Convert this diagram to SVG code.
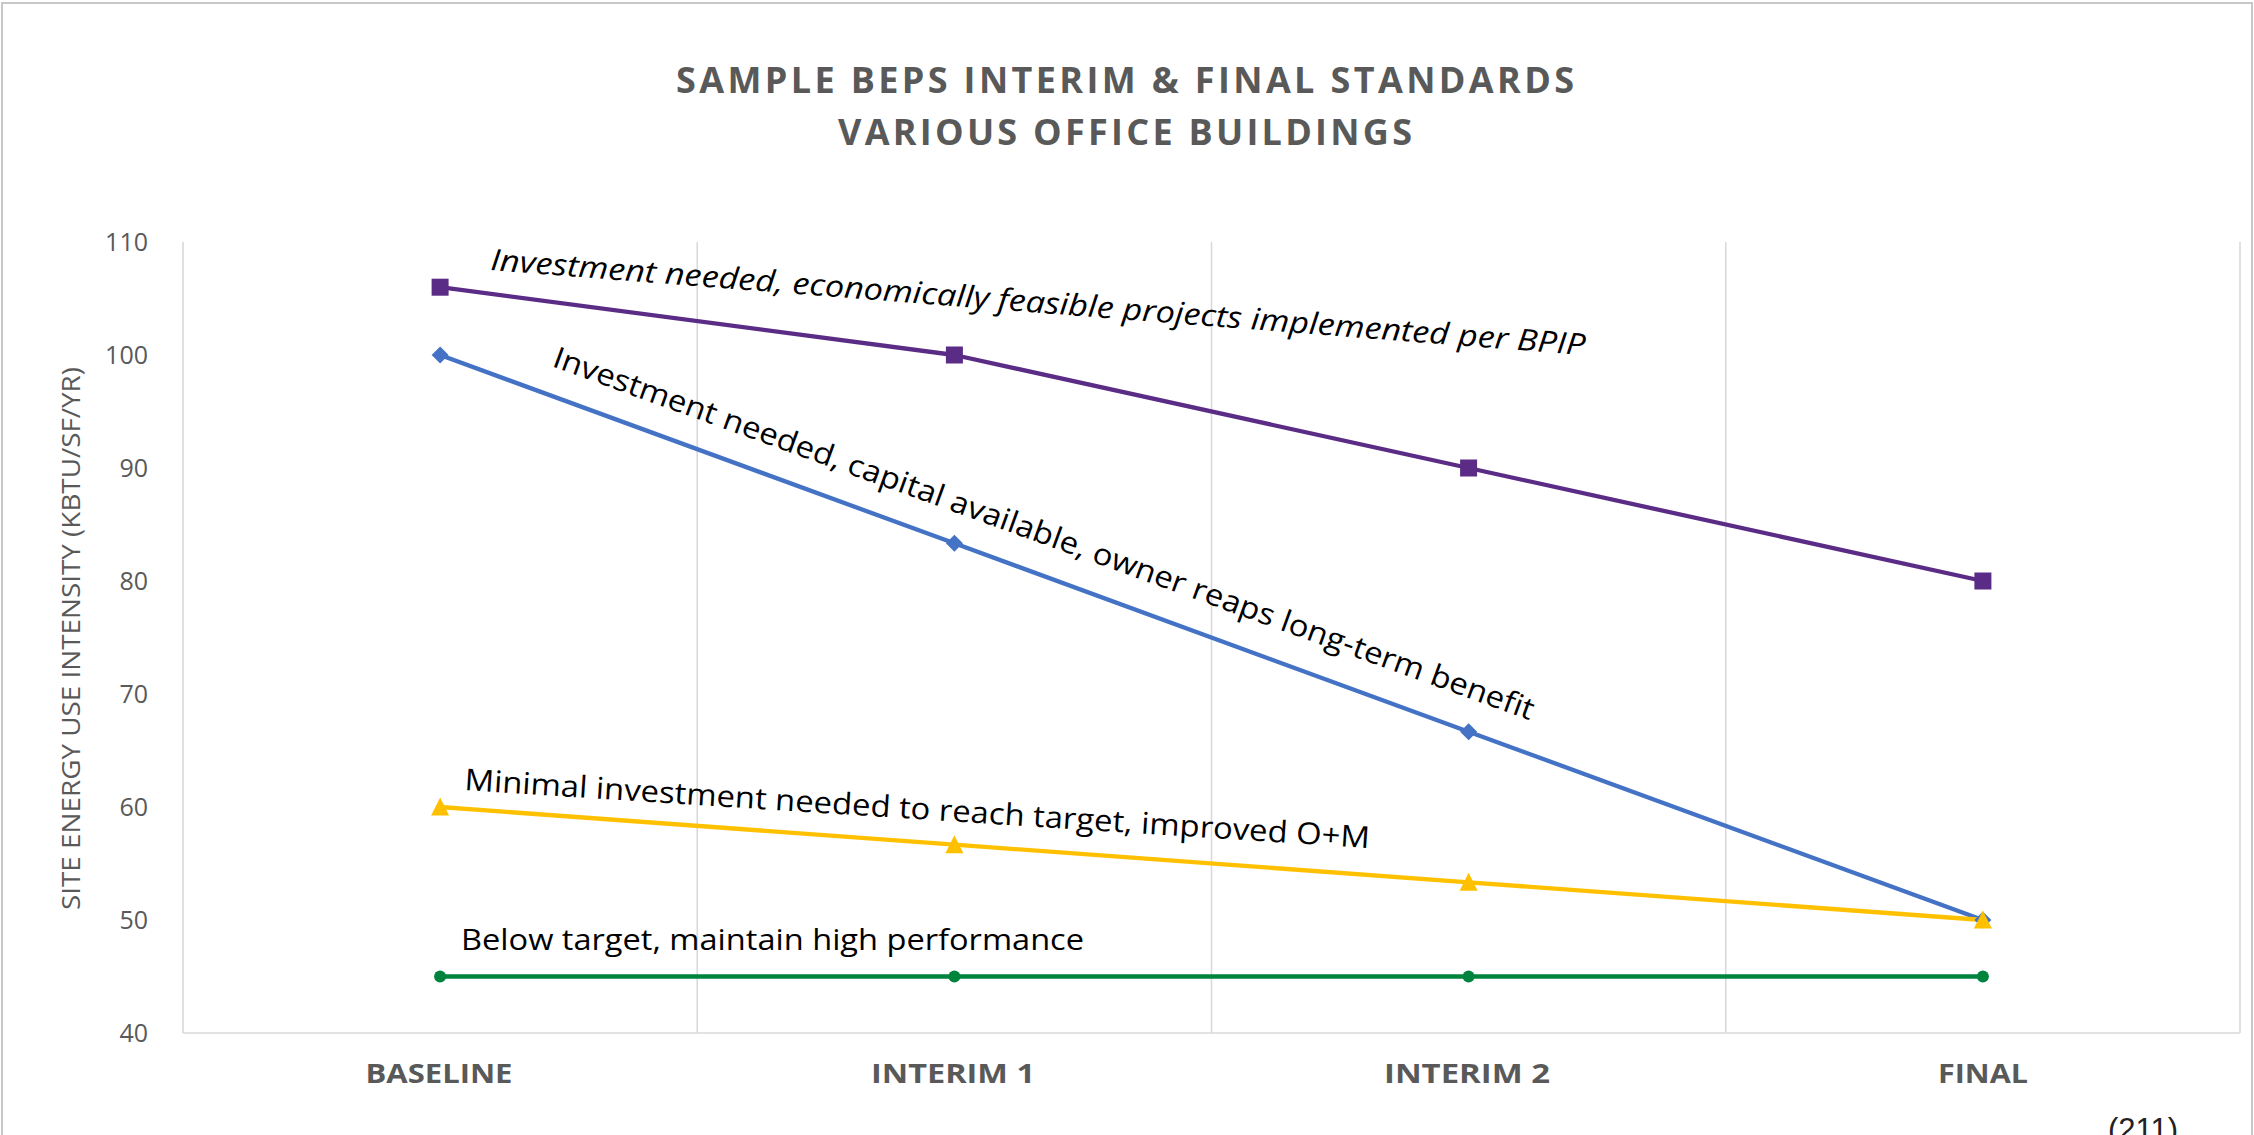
<svg xmlns="http://www.w3.org/2000/svg" xmlns:xlink="http://www.w3.org/1999/xlink" width="2254" height="1135" viewBox="0 0 2254 1135">
<style>
.frame{fill:#ffffff;stroke:#c8c8c8;stroke-width:2}
.grid{stroke:#d9d9d9;stroke-width:1.6;fill:none}
.tick{font-family:"Open Sans","Noto Sans",sans-serif;font-size:25px;fill:#595959;text-anchor:end}
.ytitle{font-family:"Open Sans","Noto Sans",sans-serif;font-size:25px;fill:#595959;text-anchor:middle}
.cat{font-family:"Open Sans","Noto Sans",sans-serif;font-size:26px;font-weight:bold;fill:#595959;text-anchor:middle}
.title{font-family:"Open Sans","Noto Sans",sans-serif;font-size:36px;font-weight:bold;fill:#595959;text-anchor:middle}
.lbl{font-family:"Open Sans","Noto Sans",sans-serif;font-size:30px;fill:#000000}
.series{fill:none;stroke-width:4.3;stroke-linejoin:round}
.purple{stroke:#5B2C86}
.blue{stroke:#4472C4}
.yellow{stroke:#FFC000}
.green{stroke:#00843D}
.page{font-family:"Liberation Sans",Arial,sans-serif;font-size:31px;fill:#222222}
</style>
<defs>
<rect id="sq" x="-8.5" y="-8.5" width="17" height="17" fill="#5B2C86"/>
<path id="dia" d="M0,-8.5 L8.5,0 L0,8.5 L-8.5,0 Z" fill="#4472C4"/>
<path id="tri" d="M0,-9.5 L9,8.5 L-9,8.5 Z" fill="#FFC000"/>
<circle id="dot" r="6" fill="#00843D"/>
</defs>
<rect class="frame" x="2" y="3" width="2250" height="1200"/>
<g id="title">
<text class="title" x="1125" y="93" textLength="898" lengthAdjust="spacing">SAMPLE BEPS INTERIM &amp; FINAL STANDARDS</text>
<text class="title" x="1125" y="145" textLength="574" lengthAdjust="spacing">VARIOUS OFFICE BUILDINGS</text>
</g>
<g id="plot-grid">
<line class="grid" x1="183" y1="242" x2="183" y2="1033"/>
<line class="grid" x1="697.25" y1="242" x2="697.25" y2="1033"/>
<line class="grid" x1="1211.5" y1="242" x2="1211.5" y2="1033"/>
<line class="grid" x1="1725.75" y1="242" x2="1725.75" y2="1033"/>
<line class="grid" x1="2240" y1="242" x2="2240" y2="1033"/>
<line class="grid" x1="183" y1="1033" x2="2240" y2="1033"/>
</g>
<g id="y-axis">
<text class="tick" x="148" y="251">110</text>
<text class="tick" x="148" y="364">100</text>
<text class="tick" x="148" y="477">90</text>
<text class="tick" x="148" y="590">80</text>
<text class="tick" x="148" y="703">70</text>
<text class="tick" x="148" y="816">60</text>
<text class="tick" x="148" y="929">50</text>
<text class="tick" x="148" y="1042">40</text>
<text class="ytitle" transform="translate(80,638.5) rotate(-90)" x="0" y="0" textLength="543" lengthAdjust="spacingAndGlyphs">SITE ENERGY USE INTENSITY (KBTU/SF/YR)</text>
</g>
<g id="x-axis">
<text class="cat" x="439" y="1083" textLength="147" lengthAdjust="spacingAndGlyphs">BASELINE</text>
<text class="cat" x="953" y="1083" textLength="164" lengthAdjust="spacingAndGlyphs">INTERIM 1</text>
<text class="cat" x="1467" y="1083" textLength="166" lengthAdjust="spacingAndGlyphs">INTERIM 2</text>
<text class="cat" x="1983" y="1083" textLength="90" lengthAdjust="spacingAndGlyphs">FINAL</text>
</g>
<g id="connectors">
<polyline class="series purple" points="440.1,287.2 954.4,355 1468.6,468 1982.9,581"/>
<polyline class="series blue" points="440.1,355 954.4,543.3 1468.6,731.7 1982.9,920"/>
<polyline class="series yellow" points="440.1,807 954.4,844.7 1468.6,882.3 1982.9,920"/>
<polyline class="series green" points="440.1,976.5 954.4,976.5 1468.6,976.5 1982.9,976.5"/>
</g>
<g id="series-purple">
<use xlink:href="#sq" href="#sq" x="440.1" y="287.2"/>
<use xlink:href="#sq" href="#sq" x="954.4" y="355"/>
<use xlink:href="#sq" href="#sq" x="1468.6" y="468"/>
<use xlink:href="#sq" href="#sq" x="1982.9" y="581"/>
</g>
<g id="series-blue">
<use xlink:href="#dia" href="#dia" x="440.1" y="355"/>
<use xlink:href="#dia" href="#dia" x="954.4" y="543.3"/>
<use xlink:href="#dia" href="#dia" x="1468.6" y="731.7"/>
<use xlink:href="#dia" href="#dia" x="1982.9" y="920"/>
</g>
<g id="series-yellow">
<use xlink:href="#tri" href="#tri" x="440.1" y="807"/>
<use xlink:href="#tri" href="#tri" x="954.4" y="844.7"/>
<use xlink:href="#tri" href="#tri" x="1468.6" y="882.3"/>
<use xlink:href="#tri" href="#tri" x="1982.9" y="920"/>
</g>
<g id="series-green">
<use xlink:href="#dot" href="#dot" x="440.1" y="976.5"/>
<use xlink:href="#dot" href="#dot" x="954.4" y="976.5"/>
<use xlink:href="#dot" href="#dot" x="1468.6" y="976.5"/>
<use xlink:href="#dot" href="#dot" x="1982.9" y="976.5"/>
</g>
<g id="labels">
<text class="lbl" font-style="italic" x="490" y="270" transform="rotate(4.45 490 270)" textLength="1098" lengthAdjust="spacingAndGlyphs">Investment needed, economically feasible projects implemented per BPIP</text>
<text class="lbl" x="551" y="366" transform="rotate(19.9 551 366)" textLength="1041" lengthAdjust="spacingAndGlyphs">Investment needed, capital available, owner reaps long-term benefit</text>
<text class="lbl" x="464" y="790" transform="rotate(3.67 464 790)" textLength="907" lengthAdjust="spacingAndGlyphs">Minimal investment needed to reach target, improved O+M</text>
<text class="lbl" x="461" y="950" textLength="623" lengthAdjust="spacingAndGlyphs">Below target, maintain high performance</text>
</g>
<text class="page" x="2108" y="1140">(211)</text>
</svg>
